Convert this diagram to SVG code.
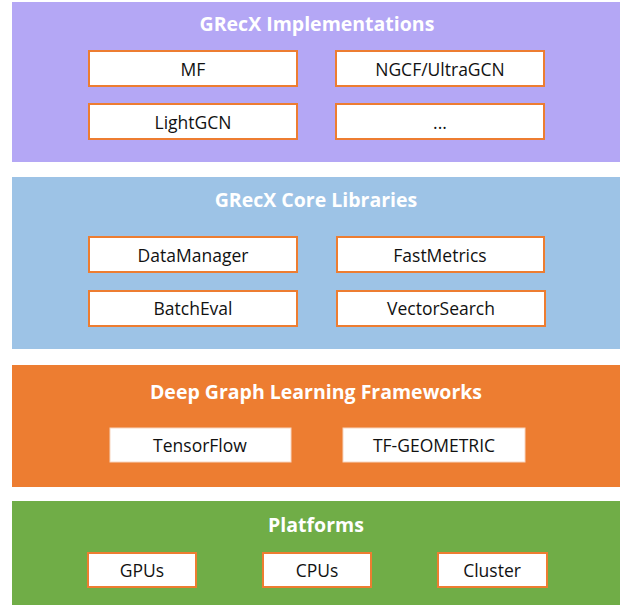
<svg xmlns="http://www.w3.org/2000/svg" width="624" height="605" viewBox="0 0 624 605">
<style>
.title{font-family:"Open Sans","Noto Sans",sans-serif;font-weight:bold;font-size:19.5px;fill:#ffffff;text-anchor:middle;dominant-baseline:central}
.lbl{font-family:"Open Sans","Noto Sans",sans-serif;font-size:17.5px;fill:#111111;text-anchor:middle;dominant-baseline:central}
.box{fill:#ffffff;stroke:#ED7D31;stroke-width:2}
.wbox{fill:#ffffff;stroke:#f8d5c0;stroke-width:1}
</style>
<rect width="624" height="605" fill="#ffffff"/>
<g id="layer-implementations">
<rect x="12" y="2" width="608" height="160" fill="#B4A7F5"/>
<text class="title" x="317" y="23">GRecX Implementations</text>
</g>
<g id="node-mf"><rect class="box" x="89" y="51" width="208" height="35"/><text class="lbl" x="193" y="69">MF</text></g>
<g id="node-ngcf"><rect class="box" x="336" y="51" width="208" height="35"/><text class="lbl" x="440" y="69">NGCF/UltraGCN</text></g>
<g id="node-lightgcn"><rect class="box" x="89" y="104" width="208" height="35"/><text class="lbl" x="193" y="122">LightGCN</text></g>
<g id="node-more"><rect class="box" x="336" y="104" width="208" height="35"/><text class="lbl" x="440" y="122">...</text></g>

<g id="layer-core">
<rect x="12" y="177" width="608" height="172" fill="#9DC3E6"/>
<text class="title" x="316" y="199">GRecX Core Libraries</text>
</g>
<g id="node-datamanager"><rect class="box" x="89" y="237" width="208" height="35"/><text class="lbl" x="193" y="255">DataManager</text></g>
<g id="node-fastmetrics"><rect class="box" x="337" y="237" width="207" height="35"/><text class="lbl" x="440" y="255">FastMetrics</text></g>
<g id="node-batcheval"><rect class="box" x="89" y="291" width="208" height="35"/><text class="lbl" x="193" y="308">BatchEval</text></g>
<g id="node-vectorsearch"><rect class="box" x="337" y="291" width="208" height="35"/><text class="lbl" x="441" y="308">VectorSearch</text></g>

<g id="layer-frameworks">
<rect x="12" y="365" width="608" height="122" fill="#ED7D31"/>
<text class="title" x="316" y="391">Deep Graph Learning Frameworks</text>
</g>
<g id="node-tensorflow"><rect class="wbox" x="110" y="428" width="181" height="34"/><text class="lbl" x="200" y="445">TensorFlow</text></g>
<g id="node-tfgeometric"><rect class="wbox" x="343" y="428" width="182" height="34"/><text class="lbl" x="434" y="445">TF-GEOMETRIC</text></g>

<g id="layer-platforms">
<rect x="12" y="501" width="608" height="104" fill="#70AD47"/>
<text class="title" x="316" y="524">Platforms</text>
</g>
<g id="node-gpus"><rect class="box" x="88" y="553" width="108" height="34"/><text class="lbl" x="142" y="570">GPUs</text></g>
<g id="node-cpus"><rect class="box" x="263" y="553" width="108" height="34"/><text class="lbl" x="317" y="570">CPUs</text></g>
<g id="node-cluster"><rect class="box" x="438" y="553" width="109" height="34"/><text class="lbl" x="492" y="570">Cluster</text></g>
<g id="connectors"></g>
</svg>
